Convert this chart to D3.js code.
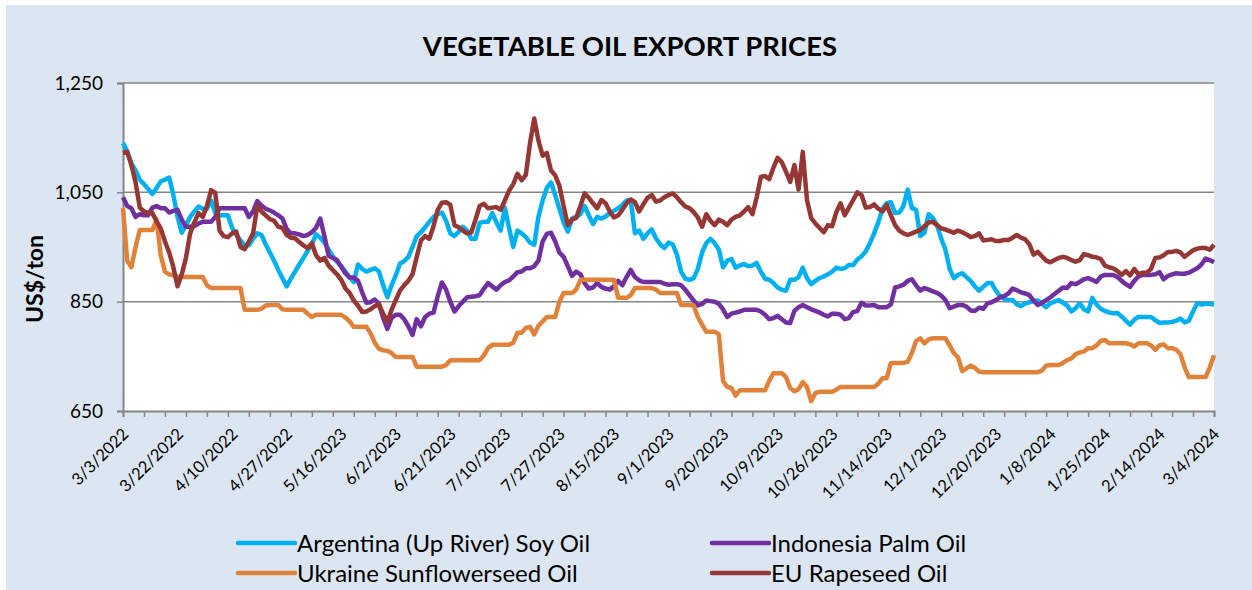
<!DOCTYPE html>
<html>
<head>
<meta charset="utf-8">
<script src="https://cdn.jsdelivr.net/npm/d3@7"></script>
<style>
  body { margin: 0; background: #fff; }
  text { font-family: Lato, "Open Sans", sans-serif; fill: #000; }
</style>
</head>
<body>
<svg id="chart"></svg>
<script>
// x labels, one every 13 observations
const dateLabels = ["3/3/2022", "3/22/2022", "4/10/2022", "4/27/2022", "5/16/2023", "6/2/2023",
    "6/21/2023", "7/10/2023", "7/27/2023", "8/15/2023", "9/1/2023", "9/20/2023", "10/9/2023",
    "10/26/2023", "11/14/2023", "12/1/2023", "12/20/2023", "1/8/2024", "1/25/2024", "2/14/2024", "3/4/2024"];
const labelStep = 13;
const tickStep = 5;
const yTicks = [650, 850, 1050, 1250];

const soyOil = [
    1140,1125,1103,1090,1073,1065,1056,1047,1058,1070,
    1073,1077,1045,1005,976,990,1005,1015,1024,1020,
    1020,1035,1012,1008,1008,1008,985,972,962,953,
    953,965,975,972,955,940,925,908,893,878,
    892,905,918,930,943,955,973,967,958,945,
    933,923,915,905,895,886,918,910,905,908,
    911,905,880,858,880,898,920,924,932,950,
    970,977,986,996,1005,1010,1013,998,975,970,
    978,987,980,965,965,994,996,996,1012,995,
    980,1022,985,950,980,975,968,958,954,1005,
    1035,1058,1068,1045,1020,995,978,1002,1005,1010,
    1025,1008,992,1005,1002,1006,1012,1016,1021,1027,
    1035,1036,975,980,965,975,982,966,955,948,
    958,955,936,905,892,890,893,910,940,957,
    965,957,945,913,925,928,912,916,919,915,
    916,921,905,892,890,884,876,872,870,890,
    890,895,912,893,882,888,893,896,900,905,
    912,910,911,917,917,927,933,942,957,975,
    995,1020,1030,1032,1012,1013,1025,1055,1021,1018,
    970,976,1010,1003,990,965,945,910,893,899,
    902,895,888,878,870,877,884,884,870,860,
    855,853,853,845,842,847,849,851,852,846,
    840,847,850,853,848,843,832,838,847,836,
    832,857,845,837,833,830,829,829,823,815,
    808,817,822,822,822,822,816,811,812,812,
    813,815,819,812,815,832,847,845,846,846,
    844];

const palmOil = [
    1041,1025,1021,1005,1010,1008,1008,1022,1025,1021,
    1021,1013,1016,1018,1000,987,987,988,993,996,
    996,996,1005,1021,1021,1021,1021,1021,1021,1021,
    1005,1015,1034,1026,1020,1017,1013,1008,1002,983,
    975,975,973,970,972,977,985,1002,970,934,
    930,926,914,902,894,894,888,867,848,849,
    854,846,820,800,820,826,826,818,805,789,
    818,805,822,828,830,860,885,872,850,832,
    842,850,858,859,860,862,874,884,878,872,
    880,886,889,896,904,905,911,911,915,925,
    960,974,976,960,940,932,915,897,905,900,
    884,874,876,884,877,874,872,878,888,880,
    895,908,895,889,886,886,886,886,886,883,
    881,882,882,880,872,862,852,843,846,852,
    851,850,846,836,822,828,830,832,835,835,
    835,835,832,826,818,820,824,818,812,811,
    833,840,844,840,836,833,830,826,823,828,
    828,826,818,820,831,833,848,843,843,844,
    840,840,840,845,876,878,881,888,891,880,
    870,875,872,869,866,861,853,838,841,844,
    844,841,834,833,839,837,847,849,853,858,
    860,865,874,871,867,865,862,852,844,848,
    853,858,864,870,876,875,884,882,886,891,
    893,890,886,896,899,899,899,895,888,882,
    877,888,896,899,899,899,900,904,891,897,
    900,902,901,901,903,907,911,918,929,926,
    922];

const sunflowerOil = [
    1021,925,913,950,981,981,981,981,1000,935,
    905,900,898,896,895,895,895,895,895,895,
    880,875,875,875,875,875,875,875,875,835,
    835,835,835,837,843,844,844,844,836,835,
    835,835,835,835,828,822,826,826,826,826,
    826,826,826,821,814,804,804,804,804,792,
    775,764,761,760,756,749,749,749,749,749,
    731,731,731,731,731,731,731,734,743,743,
    743,743,743,743,743,743,752,765,771,771,
    771,771,771,775,793,793,802,804,790,806,
    814,822,822,822,850,866,866,866,872,890,
    890,890,890,890,890,890,890,890,857,857,
    857,862,875,875,875,875,875,872,866,866,
    866,866,866,844,844,844,843,822,808,795,
    795,795,790,705,694,692,678,688,688,688,
    688,688,688,688,705,719,719,719,712,692,
    686,690,703,694,668,683,685,685,685,685,
    689,694,694,694,694,694,694,694,694,694,
    700,710,710,738,738,738,738,740,756,778,
    783,774,781,783,783,783,783,770,756,748,
    723,728,733,729,722,721,721,721,721,721,
    721,721,721,721,721,721,721,721,721,724,
    733,734,734,734,738,743,746,754,757,759,
    765,765,770,778,780,774,774,774,774,774,
    772,768,774,774,774,770,762,770,772,765,
    765,762,754,730,712,712,712,712,712,730,
    752];

const rapeseedOil = [
    1122,1124,1100,1068,1022,1015,1012,1012,997,984,
    960,940,913,878,900,930,975,995,1012,1005,
    1025,1054,1049,980,970,968,975,978,950,946,
    960,975,1025,1015,1008,1001,998,987,985,972,
    967,966,959,953,948,957,935,925,930,916,
    908,900,890,874,866,852,843,831,832,836,
    842,845,828,813,835,853,870,880,888,900,
    932,962,970,965,988,1018,1031,1032,1027,990,
    986,980,975,977,1000,1025,1029,1021,1022,1023,
    1018,1035,1053,1065,1084,1072,1082,1140,1185,1145,
    1117,1122,1090,1081,1062,1025,990,1000,1003,1025,
    1048,1040,1030,1021,1036,1030,1015,1004,1008,1018,
    1030,1037,1032,1015,1028,1040,1045,1033,1035,1041,
    1045,1048,1041,1032,1024,1021,1014,1004,987,1010,
    998,990,1000,996,990,1000,1005,1008,1015,1023,
    1010,1040,1078,1080,1074,1095,1113,1105,1088,1069,
    1100,1055,1124,1036,1003,993,985,977,990,988,
    1014,1030,1008,1022,1036,1050,1045,1022,1023,1028,
    1020,1015,1027,1008,990,980,975,972,975,978,
    981,988,995,996,990,984,982,979,976,980,
    977,973,968,970,975,962,963,964,961,961,
    963,963,967,972,967,964,955,936,941,933,
    925,922,926,930,932,930,926,923,926,937,
    935,932,931,928,916,913,911,906,899,906,
    898,910,900,903,903,910,930,931,935,941,
    941,943,940,932,938,944,947,948,948,945,
    954];

const series = [
    { name: "Argentina (Up River) Soy Oil", values: soyOil, color: "#00b0f0" },
    { name: "Indonesia Palm Oil", values: palmOil, color: "#7030a0" },
    { name: "Ukraine Sunflowerseed Oil", values: sunflowerOil, color: "#e0823a" },
    { name: "EU Rapeseed Oil", values: rapeseedOil, color: "#953735" }
];

const width = 1252;
const height = 590;
const plot = { left: 123, right: 1214, top: 83, bottom: 411 };

const svg = d3.select("#chart")
    .attr("width", width)
    .attr("height", height);

// light blue chart background
svg.append("rect")
    .attr("x", 6).attr("y", 5)
    .attr("width", width - 6).attr("height", height - 5)
    .attr("fill", "#dce6f2");

// white plot area
svg.append("rect")
    .attr("x", plot.left).attr("y", plot.top)
    .attr("width", plot.right - plot.left).attr("height", plot.bottom - plot.top)
    .attr("fill", "#fff");

const n = soyOil.length;
const x = d3.scaleLinear().domain([0, n - 1]).range([plot.left, plot.right]);
const y = d3.scaleLinear().domain([650, 1250]).range([plot.bottom, plot.top]);

// horizontal gridlines
svg.append("g")
    .selectAll("line")
    .data(yTicks.slice(1))
    .join("line")
    .attr("x1", plot.left).attr("x2", plot.right)
    .attr("y1", d => y(d)).attr("y2", d => y(d))
    .attr("stroke", "#868686")
    .attr("stroke-width", 1.5);

// y axis
const yAxis = svg.append("g")
    .attr("transform", `translate(${plot.left},0)`)
    .call(d3.axisLeft(y).tickValues(yTicks).tickFormat(d3.format(",")).tickSize(6).tickPadding(14));
yAxis.select(".domain").attr("stroke", "#868686").attr("stroke-width", 2);
yAxis.selectAll(".tick line").attr("stroke", "#868686").attr("stroke-width", 1.5);
yAxis.selectAll(".tick text").attr("font-size", 19).attr("font-family", "Lato");

// x axis: small tick marks
const xTicks = svg.append("g")
    .attr("transform", `translate(0,${plot.bottom})`)
    .call(d3.axisBottom(x).tickValues(d3.range(0, n, tickStep)).tickFormat("").tickSize(6));
xTicks.select(".domain").attr("stroke", "#868686").attr("stroke-width", 2);
xTicks.selectAll(".tick line").attr("stroke", "#868686").attr("stroke-width", 1.5);

// x axis: rotated date labels
const xLabels = svg.append("g")
    .attr("transform", `translate(0,${plot.bottom})`)
    .call(d3.axisBottom(x).tickValues(d3.range(0, n, labelStep))
        .tickFormat(i => dateLabels[i / labelStep]).tickSize(0));
xLabels.select(".domain").remove();
xLabels.selectAll(".tick text")
    .attr("font-size", 16.5)
    .attr("font-family", "Lato")
    .attr("text-anchor", "end")
    .attr("dy", 0)
    .attr("transform", "translate(4,22) rotate(-45)");

// lines
const line = d3.line()
    .x((d, i) => x(i))
    .y(d => y(d));

svg.append("g")
    .selectAll("path")
    .data(series)
    .join("path")
    .attr("d", d => line(d.values))
    .attr("fill", "none")
    .attr("stroke", d => d.color)
    .attr("stroke-width", 4.5)
    .attr("stroke-linejoin", "round");

// title
svg.append("text")
    .attr("x", 630).attr("y", 56)
    .attr("text-anchor", "middle")
    .attr("font-size", 27.5)
    .attr("font-weight", "bold")
    .text("VEGETABLE OIL EXPORT PRICES");

// y axis title
svg.append("text")
    .attr("transform", "translate(43,279) rotate(-90)")
    .attr("text-anchor", "middle")
    .attr("font-size", 23)
    .attr("font-weight", "bold")
    .text("US$/ton");

// legend, two columns
const legend = svg.append("g")
    .selectAll("g")
    .data(series)
    .join("g")
    .attr("transform", (d, i) => `translate(${i % 2 ? 712 : 238},${i < 2 ? 543 : 573})`);

legend.append("line")
    .attr("x1", 0).attr("x2", 57)
    .attr("stroke", d => d.color)
    .attr("stroke-width", 4.5)
    .attr("stroke-linecap", "round");

legend.append("text")
    .attr("x", 59).attr("y", 8.5)
    .attr("font-size", 24)
    .text(d => d.name);
</script>
</body>
</html>
